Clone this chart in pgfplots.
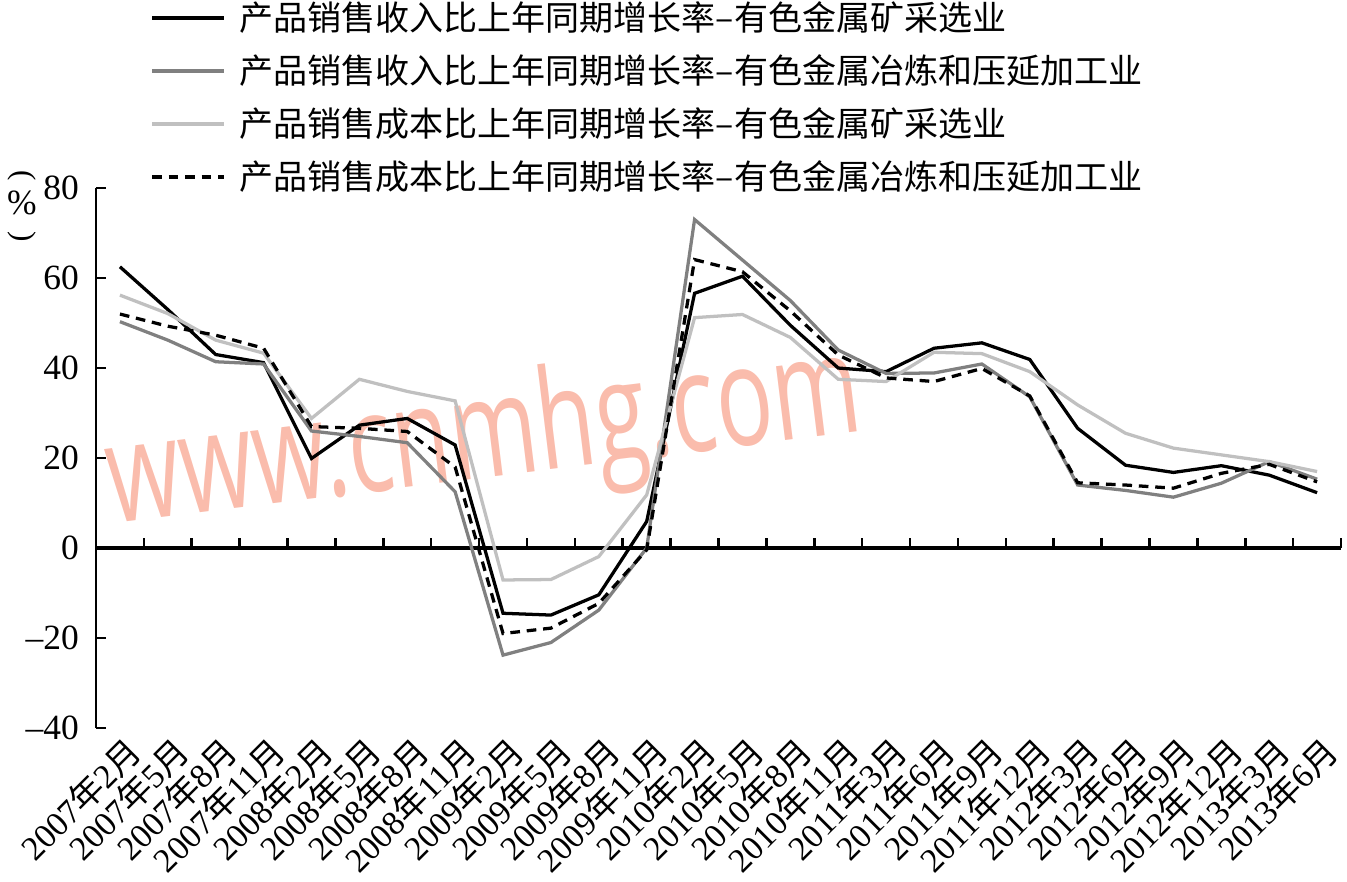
\documentclass[border=0pt]{standalone}
\usepackage{pgfplots}
\usepackage{pgfplotstable}
\pgfplotsset{compat=1.18}
\usepackage{fontspec}
\setmainfont{Liberation Serif}
\newfontfamily\cjk{Noto Sans CJK SC}
\newfontfamily\wm{Open Sans}
\newcommand\N{{\cjk 年}}
\newcommand\Y{{\cjk 月}}
\definecolor{dgray}{RGB}{128,128,128}
\definecolor{lgray}{RGB}{192,192,192}
\definecolor{wmcolor}{RGB}{250,188,172}

\pgfplotstableread{
x a b c d
0 62.5 50.3 56.2 52.0
1 53.0 46.2 52.1 49.3
2 43.0 41.4 46.2 47.3
3 41.2 40.9 43.3 44.4
4 19.9 26.0 28.8 27.0
5 27.3 24.8 37.5 26.6
6 28.8 23.4 34.8 25.9
7 22.9 12.5 32.7 18.0
8 -14.5 -23.8 -7.1 -19.0
9 -14.9 -21.0 -7.0 -17.8
10 -10.4 -13.8 -1.9 -12.3
11 5.9 0.0 11.8 -0.4
12 56.6 73.0 51.2 64.1
13 60.4 64.0 51.9 61.4
14 49.5 55.0 46.8 52.7
15 40.0 44.0 37.5 42.9
16 39.2 38.8 37.0 37.8
17 44.4 38.9 43.5 37.0
18 45.6 40.9 43.2 39.9
19 41.9 33.6 39.2 33.8
20 26.6 14.0 31.8 14.5
21 18.4 12.8 25.5 14.0
22 16.8 11.3 22.2 13.3
23 18.3 14.4 20.7 16.6
24 16.2 19.2 19.2 18.6
25 12.3 15.3 17.0 14.7
}\data

\begin{document}
\begin{tikzpicture}
\useasboundingbox (-33.85pt,-53.95pt) rectangle (441.1pt,256.7pt);
\node[rotate=7, text=wmcolor, font=\wm\fontsize{49}{49}\selectfont, inner sep=0pt] at (137pt,101pt) {\scalebox{0.68}[1]{www.cnmhg.com}};
% vertical unit label
\node[inner sep=0pt, rotate=-90, font=\fontsize{11}{12}\selectfont] at (-26.1pt,194.6pt) {(};
\node[inner sep=0pt, font=\fontsize{12.5}{14}\selectfont] at (-26.1pt,185.1pt) {\%};
\node[inner sep=0pt, rotate=-90, font=\fontsize{11}{12}\selectfont] at (-26.1pt,173.2pt) {)};
% zero line with tick marks between categories
\begin{axis}[
  at={(0,0)}, anchor=south west,
  scale only axis, width=439pt, height=190.4pt,
  xmin=-0.5, xmax=25.5, ymin=-40, ymax=80,
  axis x line=middle, axis y line=none,
  x axis line style={-, line width=1.4pt, black},
  xtick={0.5,1.5,...,25.5}, xticklabels={},
  ytick=\empty,
  xtick style={line width=0.9pt, black},
  major tick length=3.7pt,
  xtick align=inside,
]
\end{axis}
\begin{axis}[
  at={(0,0)}, anchor=south west,
  scale only axis, width=439pt, height=190.4pt,
  xmin=-0.5, xmax=25.5, ymin=-40, ymax=80,
  axis lines*=left,
  x axis line style={draw=none},
  y axis line style={-, line width=1pt, black},
  ytick={-40,-20,...,80},
  yticklabels={\textendash40,\textendash20,0,20,40,60,80},
  ytick style={line width=0.9pt, black},
  tick align=inside,
  major tick length=3.7pt,
  yticklabel style={font=\fontsize{12.5}{14}\selectfont, xshift=-2.5pt},
  xtick={0,...,25},
  xtick style={draw=none},
  xticklabels={2007\N2\Y,2007\N5\Y,2007\N8\Y,2007\N11\Y,2008\N2\Y,2008\N5\Y,2008\N8\Y,2008\N11\Y,2009\N2\Y,2009\N5\Y,2009\N8\Y,2009\N11\Y,2010\N2\Y,2010\N5\Y,2010\N8\Y,2010\N11\Y,2011\N3\Y,2011\N6\Y,2011\N9\Y,2011\N12\Y,2012\N3\Y,2012\N6\Y,2012\N9\Y,2012\N12\Y,2013\N3\Y,2013\N6\Y},
  xticklabel style={font=\fontsize{12}{14}\selectfont, rotate=45, anchor=east, inner sep=0pt, yshift=-8pt, xshift=-0.5pt},
  legend image code/.code={\draw[#1] (0pt,0pt) -- (25.4pt,0pt);},
  legend style={at={(axis description cs:0.0434,1.357)}, anchor=north west,
    draw=none, fill=none, inner sep=0pt, row sep=3pt,
    font=\cjk\fontsize{12}{14.5}\selectfont,
    /tikz/every odd column/.append style={column sep=2.8pt},
    /tikz/every even column/.append style={column sep=0pt}},
  legend cell align=left,
]
\addplot[black, line width=1.15pt] table[x=x, y=a] {\data};
\addlegendentry{产品销售收入比上年同期增长率–有色金属矿采选业}
\addplot[dgray, line width=1.15pt] table[x=x, y=b] {\data};
\addlegendentry{产品销售收入比上年同期增长率–有色金属冶炼和压延加工业}
\addplot[lgray, line width=1.15pt] table[x=x, y=c] {\data};
\addlegendentry{产品销售成本比上年同期增长率–有色金属矿采选业}
\addplot[black, line width=1.15pt, dash pattern=on 3.4pt off 2.4pt] table[x=x, y=d] {\data};
\addlegendentry{产品销售成本比上年同期增长率–有色金属冶炼和压延加工业}
\end{axis}
\end{tikzpicture}
\end{document}
